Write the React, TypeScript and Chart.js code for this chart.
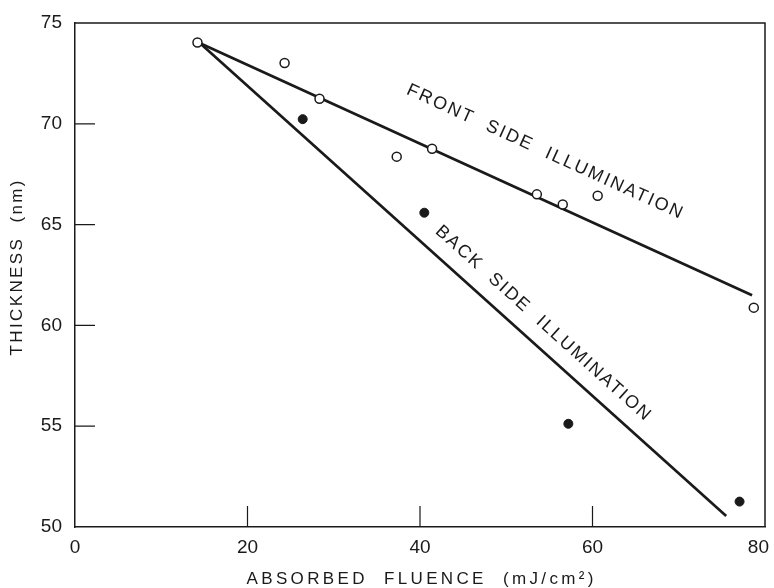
import { useEffect, useRef } from "react";
import { Chart, registerables } from "chart.js";

Chart.register(...registerables);

// Front side illumination (open circles)
const frontX = [14.2, 24.3, 28.35, 37.3, 41.4, 53.55, 56.55, 60.6, 78.7];
const frontY = [74.03, 73.02, 71.24, 68.37, 68.76, 66.5, 66.0, 66.43, 60.88];
// Back side illumination (filled circles)
const backX = [26.4, 40.5, 57.2, 77.05];
const backY = [70.23, 65.59, 55.12, 51.26];
// Fitted lines (end points)
const frontFitX = [14.5, 78.5];
const frontFitY = [74.0, 61.5];
const backFitX = [14.5, 75.5];
const backFitY = [74.0, 50.55];
// Axes
const xTicks = [0, 20, 40, 60, 80];
const xRange = [0, 80];
const yRange = [50, 75];
const xStep = 20;
const yStep = 5;
const xTitle = "ABSORBED  FLUENCE  (mJ/cm²)";
const yTitle = "THICKNESS  (nm)";
const frontLabel = "FRONT  SIDE  ILLUMINATION";
const backLabel = "BACK  SIDE  ILLUMINATION";
const frontLabelAt = [54.43, 68.62];
const backLabelAt = [54.24, 60.12];

const INK = "#1a1a1a";
const FONT = "'Liberation Sans', Arial, sans-serif";

function pts(xs: number[], ys: number[]) {
  return xs.map((x, i) => ({ x, y: ys[i] }));
}

function drawSpaced(
  ctx: CanvasRenderingContext2D,
  text: string,
  cx: number,
  cy: number,
  angle: number,
  size: number,
  target: number
) {
  ctx.save();
  ctx.translate(cx, cy);
  ctx.rotate(angle);
  ctx.font = `${size}px ${FONT}`;
  (ctx as any).letterSpacing = "0px";
  const w = ctx.measureText(text).width;
  const sp = (target - w) / (text.length - 1);
  (ctx as any).letterSpacing = `${sp}px`;
  ctx.fillStyle = INK;
  ctx.textAlign = "left";
  ctx.textBaseline = "middle";
  ctx.fillText(text, -target / 2, 0);
  ctx.restore();
}

const decor = {
  id: "decor",
  afterDraw(chart: any) {
    const { ctx, chartArea: a, scales, width } = chart;
    const xs = scales.x;
    const ys = scales.y;
    ctx.save();
    ctx.strokeStyle = INK;
    ctx.lineWidth = 1.5;
    ctx.beginPath();
    ctx.moveTo(a.left, a.top);
    ctx.lineTo(a.right, a.top);
    ctx.lineTo(a.right, a.bottom);
    ctx.stroke();
    // inward ticks
    ctx.lineWidth = 1.2;
    ctx.beginPath();
    for (let v = xRange[0] + xStep; v < xRange[1]; v += xStep) {
      const px = xs.getPixelForValue(v);
      ctx.moveTo(px, a.bottom);
      ctx.lineTo(px, a.bottom - 21);
    }
    for (let v = yRange[0] + yStep; v < yRange[1]; v += yStep) {
      const py = ys.getPixelForValue(v);
      ctx.moveTo(a.left, py);
      ctx.lineTo(a.left + 20, py);
    }
    ctx.stroke();

    // x tick labels (kept inside the canvas)
    ctx.font = `19px ${FONT}`;
    ctx.fillStyle = INK;
    ctx.textAlign = "center";
    ctx.textBaseline = "middle";
    for (const v of xTicks) {
      const label = String(v);
      const w = ctx.measureText(label).width;
      const px = Math.min(xs.getPixelForValue(v), width - w / 2 - 5);
      ctx.fillText(label, px, a.bottom + 21);
    }
    ctx.restore();

    // axis titles
    drawSpaced(ctx, xTitle, (a.left + a.right) / 2, 579, 0, 17, 347);
    drawSpaced(ctx, yTitle, 17, 268, -Math.PI / 2, 17, 175);

    // line labels
    const angFront = Math.atan2(
      ys.getPixelForValue(frontFitY[1]) - ys.getPixelForValue(frontFitY[0]),
      xs.getPixelForValue(frontFitX[1]) - xs.getPixelForValue(frontFitX[0])
    );
    const angBack = Math.atan2(
      ys.getPixelForValue(backFitY[1]) - ys.getPixelForValue(backFitY[0]),
      xs.getPixelForValue(backFitX[1]) - xs.getPixelForValue(backFitX[0])
    );
    drawSpaced(
      ctx,
      frontLabel,
      xs.getPixelForValue(frontLabelAt[0]),
      ys.getPixelForValue(frontLabelAt[1]),
      angFront,
      18,
      301
    );
    drawSpaced(
      ctx,
      backLabel,
      xs.getPixelForValue(backLabelAt[0]),
      ys.getPixelForValue(backLabelAt[1]),
      angBack,
      18,
      282
    );
  },
};

export default function App() {
  const ref = useRef<HTMLCanvasElement>(null);
  useEffect(() => {
    if (!ref.current) return;
    const chart = new Chart(ref.current, {
      type: "scatter",
      data: {
        datasets: [
          {
            label: "front",
            data: pts(frontX, frontY),
            pointRadius: 4.5,
            pointBackgroundColor: "#ffffff",
            pointBorderColor: INK,
            pointBorderWidth: 1.5,
          },
          {
            label: "back",
            data: pts(backX, backY),
            pointRadius: 4.5,
            pointBackgroundColor: INK,
            pointBorderColor: INK,
            pointBorderWidth: 1,
          },
          {
            label: "front fit",
            data: pts(frontFitX, frontFitY),
            showLine: true,
            pointRadius: 0,
            borderColor: INK,
            borderWidth: 2.7,
          },
          {
            label: "back fit",
            data: pts(backFitX, backFitY),
            showLine: true,
            pointRadius: 0,
            borderColor: INK,
            borderWidth: 2.7,
          },
        ],
      },
      options: {
        animation: false,
        responsive: false,
        events: [],
        layout: { padding: { left: 0, right: 9, top: 23, bottom: 0 } },
        plugins: { legend: { display: false }, tooltip: { enabled: false } },
        scales: {
          x: {
            type: "linear",
            min: xRange[0],
            max: xRange[1],
            afterFit: (s: any) => {
              s.height = 61;
              s.paddingLeft = 0;
              s.paddingRight = 0;
            },
            ticks: { stepSize: xStep, display: false },
            grid: { display: false, drawTicks: false },
            border: { display: true, color: INK, width: 1.5 },
          },
          y: {
            type: "linear",
            min: yRange[0],
            max: yRange[1],
            afterFit: (s: any) => {
              s.width = 75;
              s.paddingTop = 0;
              s.paddingBottom = 0;
            },
            ticks: {
              stepSize: yStep,
              padding: 13,
              color: INK,
              font: { family: FONT, size: 19 },
            },
            grid: { display: false, drawTicks: false },
            border: { display: true, color: INK, width: 1.5 },
          },
        },
      },
      plugins: [decor],
    });
    return () => chart.destroy();
  }, []);
  return (
    <div style={{ position: "fixed", left: 0, top: 0, width: 774, height: 588, background: "#fff" }}>
      <canvas ref={ref} width={774} height={588} />
    </div>
  );
}
